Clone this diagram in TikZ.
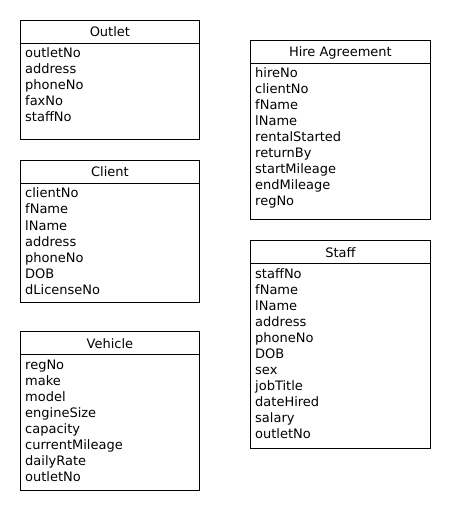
\documentclass[tikz,border=0pt]{standalone}
\usepackage{fontspec}
\setmainfont{DejaVu Sans}

\begin{document}
\begin{tikzpicture}[
    x=1pt, y=-1pt,
    entity/.style={draw, line width=0.8pt, anchor=north west, inner sep=0pt},
    title/.style={anchor=base, inner sep=0pt, font=\fontsize{13}{16}\selectfont},
    attr/.style={anchor=base west, inner sep=0pt, font=\fontsize{13}{16}\selectfont},
    sep/.style={draw, line width=0.8pt}
]
\useasboundingbox (0,0) rectangle (450,510);

% Outlet
\node[entity, minimum width=179pt, minimum height=119pt] (outlet) at (20,20) {};
\node[title] (outlet-title) at ([yshift=-17pt]outlet.north) {Outlet};
\draw[sep] ([yshift=-23pt]outlet.north west) -- ([yshift=-23pt]outlet.north east);
\foreach \a [count=\i] in {outletNo,address,phoneNo,faxNo,staffNo}
  \node[attr] (outlet-\i) at ([xshift=5pt,yshift={-23pt-16pt*\i+1pt}]outlet.north west) {\a};

% Client
\node[entity, minimum width=179pt, minimum height=142pt] (client) at (20,160) {};
\node[title] (client-title) at ([yshift=-17pt]client.north) {Client};
\draw[sep] ([yshift=-23pt]client.north west) -- ([yshift=-23pt]client.north east);
\foreach \a [count=\i] in {clientNo,fName,lName,address,phoneNo,DOB,dLicenseNo}
  \node[attr] (client-\i) at ([xshift=5pt,yshift={-23pt-16pt*\i+1pt}]client.north west) {\a};

% Vehicle
\node[entity, minimum width=179pt, minimum height=159pt] (vehicle) at (20,331) {};
\node[title] (vehicle-title) at ([yshift=-17pt]vehicle.north) {Vehicle};
\draw[sep] ([yshift=-23pt]vehicle.north west) -- ([yshift=-23pt]vehicle.north east);
\foreach \a [count=\i] in {regNo,make,model,engineSize,capacity,currentMileage,dailyRate,outletNo}
  \node[attr] (vehicle-\i) at ([xshift=5pt,yshift={-23pt-16pt*\i+1pt}]vehicle.north west) {\a};

% Hire Agreement
\node[entity, minimum width=180pt, minimum height=179pt] (hire) at (250,40) {};
\node[title] (hire-title) at ([yshift=-17pt]hire.north) {Hire Agreement};
\draw[sep] ([yshift=-23pt]hire.north west) -- ([yshift=-23pt]hire.north east);
\foreach \a [count=\i] in {hireNo,clientNo,fName,lName,rentalStarted,returnBy,startMileage,endMileage,regNo}
  \node[attr] (hire-\i) at ([xshift=5pt,yshift={-23pt-16pt*\i+1pt}]hire.north west) {\a};

% Staff
\node[entity, minimum width=180pt, minimum height=208pt] (staff) at (250,240) {};
\node[title] (staff-title) at ([yshift=-17pt]staff.north) {Staff};
\draw[sep] ([yshift=-23pt]staff.north west) -- ([yshift=-23pt]staff.north east);
\foreach \a [count=\i] in {staffNo,fName,lName,address,phoneNo,DOB,sex,jobTitle,dateHired,salary,outletNo}
  \node[attr] (staff-\i) at ([xshift=5pt,yshift={-23pt-16pt*\i+1pt}]staff.north west) {\a};

\end{tikzpicture}
\end{document}
